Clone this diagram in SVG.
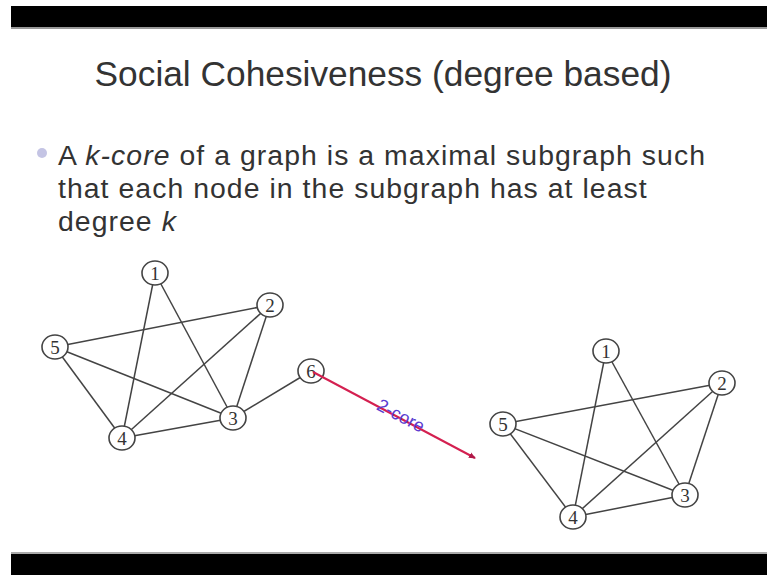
<svg xmlns="http://www.w3.org/2000/svg" width="767" height="575" viewBox="0 0 767 575">
<defs>
<style>
.bar{fill:#000}
.title{font-family:"Liberation Sans",Arial,sans-serif;font-size:35.3px;fill:#333;text-anchor:middle}
.body{font-family:"Liberation Sans",Arial,sans-serif;font-size:28.4px;letter-spacing:1.05px;fill:#333}
.it{font-style:italic}
.node ellipse{fill:#fff;stroke:#444;stroke-width:1.6}
.node text{font-family:"Liberation Serif","Times New Roman",serif;font-size:19px;fill:#333;text-anchor:middle;dominant-baseline:central}
.edge{stroke:#444;stroke-width:1.5;fill:none}
.arrow{stroke:#d42050;stroke-width:2;fill:none}
.lbl{font-family:"Liberation Sans",Arial,sans-serif;font-size:18px;fill:#5a3cd0;text-anchor:middle}
</style>
<marker id="ah" markerWidth="8" markerHeight="8" refX="6" refY="4" orient="auto" markerUnits="userSpaceOnUse">
<path d="M0,1 L7,4 L0,7 z" fill="#b01848"/>
</marker>
</defs>
<rect width="767" height="575" fill="#fff"/>
<rect class="bar" x="11" y="6" width="756" height="21"/>
<rect x="11" y="27" width="756" height="2" fill="#999"/>
<rect x="11" y="552" width="756" height="2" fill="#aaa"/>
<rect class="bar" x="11" y="554" width="756" height="21"/>

<text class="title" x="383" y="86">Social Cohesiveness (degree based)</text>
<circle cx="42" cy="153" r="5" fill="#c4c4e4"/>
<text class="body" x="58" y="165">A <tspan class="it">k-core</tspan> of a graph is a maximal subgraph such</text>
<text class="body" x="58" y="198">that each node in the subgraph has at least</text>
<text class="body" x="58" y="231">degree <tspan class="it">k</tspan></text>

<g id="connectors">
<line class="edge" x1="155" y1="273" x2="122" y2="438"/>
<line class="edge" x1="155" y1="273" x2="233" y2="418"/>
<line class="edge" x1="55" y1="347" x2="270" y2="305"/>
<line class="edge" x1="55" y1="347" x2="233" y2="418"/>
<line class="edge" x1="55" y1="347" x2="122" y2="438"/>
<line class="edge" x1="270" y1="305" x2="122" y2="438"/>
<line class="edge" x1="270" y1="305" x2="233" y2="418"/>
<line class="edge" x1="122" y1="438" x2="233" y2="418"/>
<line class="edge" x1="233" y1="418" x2="311" y2="371"/>

<line class="edge" x1="606" y1="351" x2="573" y2="517"/>
<line class="edge" x1="606" y1="351" x2="685" y2="495"/>
<line class="edge" x1="503" y1="424" x2="722" y2="383"/>
<line class="edge" x1="503" y1="424" x2="685" y2="495"/>
<line class="edge" x1="503" y1="424" x2="573" y2="517"/>
<line class="edge" x1="722" y1="383" x2="573" y2="517"/>
<line class="edge" x1="722" y1="383" x2="685" y2="495"/>
<line class="edge" x1="573" y1="517" x2="685" y2="495"/>
</g>

<g id="L1" class="node"><ellipse cx="155" cy="273" rx="13" ry="12"/><text x="155" y="273">1</text></g>
<g id="L2" class="node"><ellipse cx="270" cy="305" rx="13" ry="12"/><text x="270" y="305">2</text></g>
<g id="L3" class="node"><ellipse cx="233" cy="418" rx="13" ry="12"/><text x="233" y="418">3</text></g>
<g id="L4" class="node"><ellipse cx="122" cy="438" rx="13" ry="12"/><text x="122" y="438">4</text></g>
<g id="L5" class="node"><ellipse cx="55" cy="347" rx="13" ry="12"/><text x="55" y="347">5</text></g>
<g id="L6" class="node"><ellipse cx="311" cy="371" rx="13" ry="12"/><text x="311" y="371">6</text></g>

<g id="R1" class="node"><ellipse cx="606" cy="351" rx="13" ry="12"/><text x="606" y="351">1</text></g>
<g id="R2" class="node"><ellipse cx="722" cy="383" rx="13" ry="12"/><text x="722" y="383">2</text></g>
<g id="R3" class="node"><ellipse cx="685" cy="495" rx="13" ry="12"/><text x="685" y="495">3</text></g>
<g id="R4" class="node"><ellipse cx="573" cy="517" rx="13" ry="12"/><text x="573" y="517">4</text></g>
<g id="R5" class="node"><ellipse cx="503" cy="424" rx="13" ry="12"/><text x="503" y="424">5</text></g>

<g id="arrow">
<line class="arrow" x1="313" y1="372" x2="475" y2="458" marker-end="url(#ah)"/>
<text class="lbl" transform="translate(398,421) rotate(28)">2-core</text>
</g>
</svg>
